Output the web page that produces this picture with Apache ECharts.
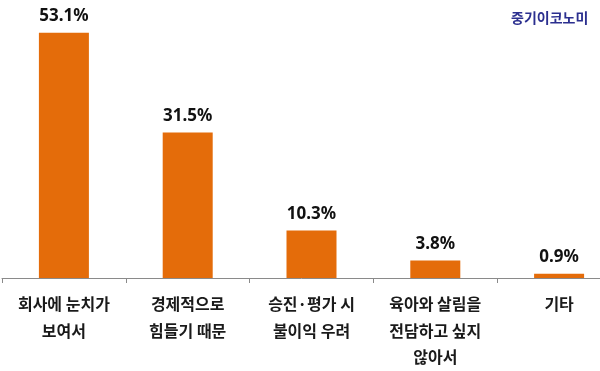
<!DOCTYPE html>
<html>
<head>
<meta charset="utf-8">
<script src="https://cdn.jsdelivr.net/npm/echarts@6/dist/echarts.min.js"></script>
<style>html,body{margin:0;padding:0;background:#fff;}#c{width:600px;height:371px;}</style>
</head>
<body>
<div id="c"></div>
<script>
const categories = ['회사에 눈치가\n보여서', '경제적으로\n힘들기 때문', '승진·평가 시\n불이익 우려', '육아와 살림을\n전담하고 싶지\n않아서', '기타'];
const values = [53.1, 31.5, 10.3, 3.8, 0.9];
const sourceText = '중기이코노미';

const chart = echarts.init(document.getElementById('c'), null, {renderer: 'canvas'});
chart.setOption({
  animation: false,
  backgroundColor: '#ffffff',
  graphic: [{
    type: 'text', left: 511, top: 11,
    style: {text: sourceText, fill: '#2b2f8f', font: 'bold 14px "Noto Sans CJK KR"'}
  }],
  grid: {left: 2, top: 1, right: -21, bottom: 93, containLabel: false, outerBoundsMode: 'none'},
  xAxis: {
    type: 'category',
    data: categories,
    axisLine: {lineStyle: {color: '#8a8a8a', width: 1}},
    axisTick: {show: true, length: 5, lineStyle: {color: '#8a8a8a'}},
    axisLabel: {
      interval: 0, margin: 13, color: '#1a1a1a',
      fontFamily: '"Noto Sans CJK KR"', fontSize: 16, fontWeight: 'bold', lineHeight: 26.5
    }
  },
  yAxis: {
    type: 'value', min: 0, max: 60, show: false,
    splitLine: {show: false}
  },
  series: [{
    type: 'bar',
    data: values,
    barWidth: 50,
    itemStyle: {color: '#e46c0a'},
    label: {
      show: true, position: 'top', distance: 8,
      formatter: p => p.value.toFixed(1) + '%',
      color: '#111', fontFamily: '"Noto Sans", "Noto Sans CJK KR"', fontSize: 17, fontWeight: 'bold'
    }
  }]
});
</script>
</body>
</html>
